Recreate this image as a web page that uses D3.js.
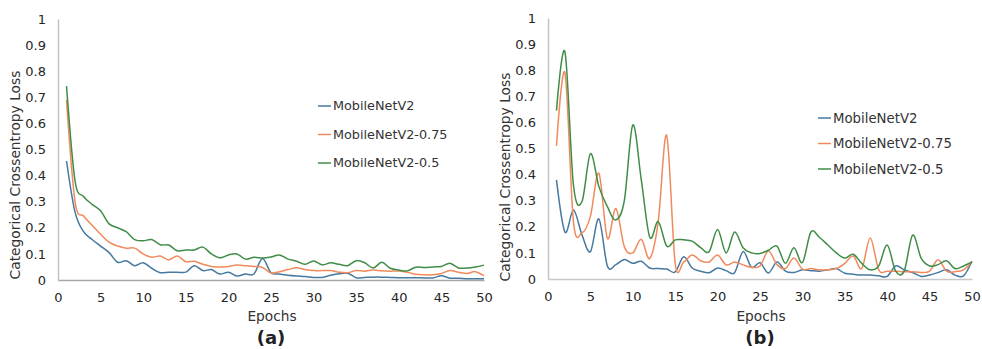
<!DOCTYPE html>
<html>
<head>
<meta charset="utf-8">
<script src="https://cdn.jsdelivr.net/npm/d3@7"></script>
<style>
  body { margin: 0; background: #fff; }
  svg { font-family: "DejaVu Sans", sans-serif; display: block; }
  .axis line { display: none; }
</style>
</head>
<body>
<div id="chart"></div>
<script>
// epochs 1..50 and the tick labels
var epochs = d3.range(1, 51);
var xTicks = [0, 5, 10, 15, 20, 25, 30, 35, 40, 45, 50];
var yTicks = [0, 0.1, 0.2, 0.3, 0.4, 0.5, 0.6, 0.7, 0.8, 0.9, 1];
var seriesNames = ["MobileNetV2", "MobileNetV2-0.75", "MobileNetV2-0.5"];

// (a) loss per epoch
var lossA_v2 = [0.456, 0.26, 0.185, 0.155, 0.13, 0.105, 0.068, 0.074, 0.055, 0.066,
  0.045, 0.028, 0.03, 0.03, 0.03, 0.055, 0.036, 0.04, 0.023, 0.03,
  0.015, 0.023, 0.023, 0.082, 0.028, 0.023, 0.018, 0.015, 0.013, 0.01,
  0.01, 0.018, 0.024, 0.026, 0.009, 0.01, 0.011, 0.011, 0.01, 0.009,
  0.009, 0.009, 0.008, 0.008, 0.016, 0.007, 0.007, 0.005, 0.005, 0.005];
var lossA_v2_075 = [0.69, 0.30, 0.245, 0.21, 0.175, 0.145, 0.13, 0.122, 0.122, 0.1,
  0.087, 0.092, 0.077, 0.092, 0.07, 0.072, 0.06, 0.052, 0.05, 0.052,
  0.057, 0.055, 0.052, 0.048, 0.027, 0.032, 0.04, 0.047, 0.04, 0.036,
  0.036, 0.036, 0.03, 0.028, 0.036, 0.034, 0.038, 0.035, 0.034, 0.034,
  0.03, 0.022, 0.02, 0.02, 0.025, 0.036, 0.03, 0.025, 0.032, 0.016];
var lossA_v2_05 = [0.743, 0.38, 0.32, 0.29, 0.265, 0.215, 0.2, 0.185, 0.155, 0.15,
  0.155, 0.135, 0.134, 0.112, 0.115, 0.115, 0.126, 0.1, 0.085, 0.096,
  0.1, 0.08, 0.087, 0.084, 0.088, 0.096, 0.08, 0.072, 0.06, 0.073,
  0.058, 0.066, 0.06, 0.055, 0.074, 0.066, 0.046, 0.068, 0.045, 0.038,
  0.035, 0.049, 0.048, 0.05, 0.052, 0.064, 0.046, 0.046, 0.05, 0.057];

// (b) loss per epoch
var lossB_v2 = [0.38, 0.18, 0.264, 0.17, 0.105, 0.23, 0.05, 0.055, 0.075, 0.06,
  0.068, 0.042, 0.04, 0.038, 0.027, 0.085, 0.042, 0.03, 0.024, 0.042,
  0.032, 0.024, 0.105, 0.045, 0.062, 0.023, 0.065, 0.03, 0.025, 0.035,
  0.032, 0.03, 0.035, 0.04, 0.022, 0.018, 0.015, 0.015, 0.012, 0.01,
  0.05, 0.035, 0.025, 0.01, 0.015, 0.025, 0.035, 0.015, 0.012, 0.068];
var lossB_v2_075 = [0.51, 0.79, 0.22, 0.177, 0.24, 0.405, 0.156, 0.27, 0.124, 0.1,
  0.152, 0.079, 0.22, 0.55, 0.06, 0.065, 0.092, 0.07, 0.065, 0.092,
  0.054, 0.065, 0.054, 0.045, 0.05, 0.107, 0.055, 0.04, 0.08, 0.038,
  0.04, 0.035, 0.035, 0.04, 0.06, 0.088, 0.04, 0.157, 0.035, 0.03,
  0.03, 0.028, 0.028, 0.025, 0.03, 0.074, 0.03, 0.028, 0.035, 0.065];
var lossB_v2_05 = [0.645, 0.87, 0.36, 0.296, 0.48, 0.354, 0.277, 0.226, 0.3, 0.59,
  0.38, 0.16, 0.22, 0.126, 0.15, 0.15, 0.145, 0.12, 0.105, 0.19,
  0.1, 0.18, 0.12, 0.1, 0.098, 0.11, 0.126, 0.06, 0.12, 0.063,
  0.18, 0.16, 0.13, 0.1, 0.08, 0.095, 0.06, 0.035, 0.05, 0.13,
  0.03, 0.03, 0.168, 0.08, 0.05, 0.055, 0.07, 0.04, 0.05, 0.065];

var colors = ["#45799f", "#f08a5d", "#3f8d47"];

var svg = d3.select("#chart").append("svg")
  .attr("width", 982)
  .attr("height", 349);

svg.append("rect").attr("width", 982).attr("height", 349).attr("fill", "#fff");

function drawPanel(p) {
  var x = d3.scaleLinear().domain([0, 50]).range([p.x0, p.x1]);
  var y = d3.scaleLinear().domain([0, 1]).range([p.y0, p.y1]);

  // y axis
  var ya = svg.append("g")
    .attr("class", "axis")
    .attr("transform", "translate(" + p.x0 + ",0)")
    .call(d3.axisLeft(y).tickValues(yTicks).tickSize(0).tickSizeOuter(0).tickPadding(12)
      .tickFormat(d3.format("~g")));
  ya.attr("font-size", 13).attr("font-family", "DejaVu Sans");
  ya.select(".domain").attr("stroke", "#c4c4c4").attr("stroke-width", 1.5);
  ya.selectAll("text").attr("fill", "#262626");

  // x axis
  var xa = svg.append("g")
    .attr("class", "axis")
    .attr("transform", "translate(0," + p.y0 + ")")
    .call(d3.axisBottom(x).tickValues(xTicks).tickSize(0).tickSizeOuter(0).tickPadding(13));
  xa.attr("font-size", 13).attr("font-family", "DejaVu Sans");
  xa.select(".domain").attr("stroke", p.xAxisColor).attr("stroke-width", 1.5);
  xa.selectAll("text").attr("fill", "#262626");

  var line = d3.line()
    .x(function(d, i) { return x(epochs[i]); })
    .y(function(d) { return y(d); })
    .curve(d3.curveCardinal.tension(0));

  p.series.forEach(function(s, i) {
    svg.append("path")
      .datum(s)
      .attr("fill", "none")
      .attr("stroke", colors[i])
      .attr("stroke-width", 1.5)
      .attr("d", line);
  });

  // axis titles
  svg.append("text")
    .attr("transform", "translate(" + p.yTitleX + "," + p.yTitleY + ") rotate(-90)")
    .attr("text-anchor", "middle")
    .attr("dy", "0.35em")
    .attr("font-size", 13.8)
    .attr("fill", "#333")
    .text("Categorical Crossentropy Loss");

  svg.append("text")
    .attr("x", (p.x0 + p.x1) / 2 + 1)
    .attr("y", 321)
    .attr("text-anchor", "middle")
    .attr("font-size", 13.7)
    .attr("fill", "#333")
    .text("Epochs");

  svg.append("text")
    .attr("x", (p.x0 + p.x1) / 2)
    .attr("y", 344)
    .attr("text-anchor", "middle")
    .attr("font-size", 18)
    .attr("font-weight", "bold")
    .attr("fill", "#222")
    .text(p.label);

  // legend
  var lg = svg.append("g").attr("transform", "translate(" + p.legX + "," + p.legY + ")");
  seriesNames.forEach(function(name, i) {
    lg.append("line")
      .attr("x1", 0).attr("x2", 13)
      .attr("y1", i * p.legGap).attr("y2", i * p.legGap)
      .attr("stroke", colors[i])
      .attr("stroke-width", 1.5);
    lg.append("text")
      .attr("x", 15)
      .attr("y", i * p.legGap)
      .attr("dy", "0.35em")
      .attr("font-size", p.legFont)
      .attr("fill", "#333")
      .text(name);
  });
}

drawPanel({
  x0: 58, x1: 484, y0: 280, y1: 19,
  xAxisColor: "#a8a8a8",
  yTitleX: 15.5, yTitleY: 175,
  series: [lossA_v2, lossA_v2_075, lossA_v2_05],
  label: "(a)",
  legX: 318, legY: 106, legGap: 28.5, legFont: 12.8
});

drawPanel({
  x0: 548, x1: 972, y0: 279, y1: 18,
  xAxisColor: "#c8c8c8",
  yTitleX: 505, yTitleY: 177,
  series: [lossB_v2, lossB_v2_075, lossB_v2_05],
  label: "(b)",
  legX: 818, legY: 118, legGap: 25.5, legFont: 13.3
});
</script>
</body>
</html>
